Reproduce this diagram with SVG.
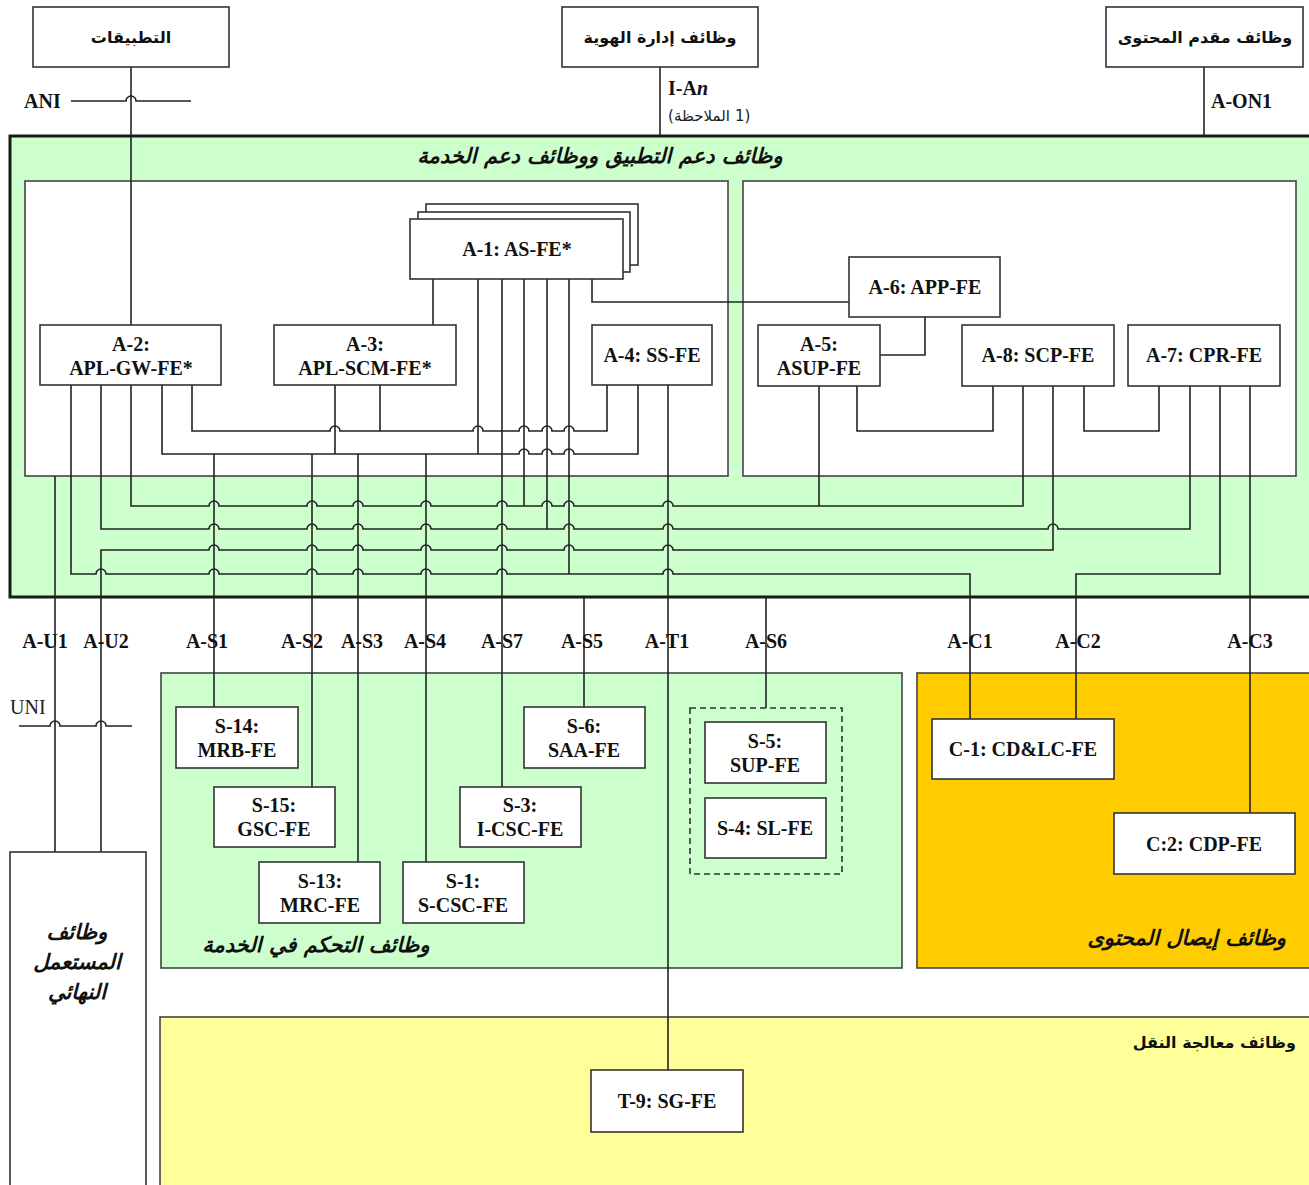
<svg xmlns="http://www.w3.org/2000/svg" width="1309" height="1185" viewBox="0 0 1309 1185">
  <style>
    .box { fill: #ffffff; stroke: #333333; stroke-width: 1.6; }
    .area { stroke: #444444; stroke-width: 1.6; }
    .wire { fill: none; stroke: #222222; stroke-width: 1.6; }
    .fe { font-family: "Liberation Serif", serif; font-weight: bold; font-size: 20px; fill: #111111; text-anchor: middle; }
    .ifl { font-family: "Liberation Serif", serif; font-weight: bold; font-size: 20px; fill: #111111; }
    .mid { text-anchor: middle; }
    .ar { font-family: "DejaVu Sans", sans-serif; font-weight: bold; font-size: 16px; fill: #111111; }
    .ari { font-family: "DejaVu Sans", sans-serif; font-weight: bold; font-style: italic; font-size: 21px; fill: #111111; }
    .note { font-family: "DejaVu Sans", sans-serif; font-size: 15px; fill: #222222; }
  </style>

  <!-- functional areas -->
  <g id="app-support-area">
    <rect x="10" y="136" width="1302" height="461" fill="#ccffcc" stroke="#1a1a1a" stroke-width="3"/>
    <rect x="25" y="181" width="703" height="295" fill="#ffffff" class="area"/>
    <rect x="743" y="181" width="553" height="295" fill="#ffffff" class="area"/>
    <text class="ari" x="600" y="163" text-anchor="middle" font-size="21.5">وظائف دعم التطبيق ووظائف دعم الخدمة</text>
  </g>
  <g id="service-control-area">
    <rect x="161" y="673" width="741" height="295" fill="#ccffcc" class="area"/>
    <text class="ari" x="316" y="952" text-anchor="middle">وظائف التحكم في الخدمة</text>
  </g>
  <g id="content-delivery-area">
    <rect x="917" y="673" width="400" height="295" fill="#ffcc00" class="area"/>
    <text class="ari" x="1286" y="945" text-anchor="end" font-size="22">وظائف إيصال المحتوى</text>
  </g>
  <g id="transport-area">
    <rect x="160" y="1017" width="1160" height="180" fill="#ffff99" class="area"/>
    <text class="ar" x="1296" y="1048" text-anchor="end">وظائف معالجة النقل</text>
  </g>

  <!-- connectors -->
  <g id="connectors" class="wire">
    <!-- external reference points -->
    <path d="M131 67 V325"/>
    <path d="M71 101 H126 a5 5 0 0 1 10 0 H191"/>
    <path d="M660 67 V136"/>
    <path d="M1204 67 V136"/>

    <!-- inside the application support box -->
    <path d="M433 279 V325"/>
    <path d="M592 279 V302 H849"/>
    <path d="M925 317 V355 H880"/>
    <path d="M857 386 V431 H993 V386"/>
    <path d="M1159 386 V431 H1084 V386"/>
    <path d="M192 385 V431 H330 a5 5 0 0 1 10 0 H473 a5 5 0 0 1 10 0 H519 a5 5 0 0 1 10 0 H542 a5 5 0 0 1 10 0 H564 a5 5 0 0 1 10 0 H607 V385"/>
    <path d="M380 385 V431"/>
    <path d="M162 385 V454 H519 a5 5 0 0 1 10 0 H542 a5 5 0 0 1 10 0 H564 a5 5 0 0 1 10 0 H638 V385"/>
    <path d="M335 385 V454"/>
    <path d="M478 279 V454"/>
    <path d="M502 279 V787"/>
    <path d="M524 279 V506"/>
    <path d="M547 279 V529"/>
    <path d="M569 279 V574"/>
    <path d="M214 454 V707"/>
    <path d="M312 454 V787"/>
    <path d="M358 454 V862"/>
    <path d="M426 454 V862"/>
    <path d="M668 385 V1070"/>
    <path d="M819 386 V506"/>

    <!-- shared buses -->
    <path d="M131 385 V506 H209 a5 5 0 0 1 10 0 H307 a5 5 0 0 1 10 0 H353 a5 5 0 0 1 10 0 H421 a5 5 0 0 1 10 0 H497 a5 5 0 0 1 10 0 H542 a5 5 0 0 1 10 0 H564 a5 5 0 0 1 10 0 H663 a5 5 0 0 1 10 0 H1023 V386"/>
    <path d="M101 385 V529 H209 a5 5 0 0 1 10 0 H307 a5 5 0 0 1 10 0 H353 a5 5 0 0 1 10 0 H421 a5 5 0 0 1 10 0 H497 a5 5 0 0 1 10 0 H564 a5 5 0 0 1 10 0 H663 a5 5 0 0 1 10 0 H1048 a5 5 0 0 1 10 0 H1190 V386"/>
    <path d="M101 852 V550 H209 a5 5 0 0 1 10 0 H307 a5 5 0 0 1 10 0 H353 a5 5 0 0 1 10 0 H421 a5 5 0 0 1 10 0 H497 a5 5 0 0 1 10 0 H564 a5 5 0 0 1 10 0 H663 a5 5 0 0 1 10 0 H1053 V386"/>
    <path d="M71 385 V574 H96 a5 5 0 0 1 10 0 H209 a5 5 0 0 1 10 0 H307 a5 5 0 0 1 10 0 H353 a5 5 0 0 1 10 0 H421 a5 5 0 0 1 10 0 H497 a5 5 0 0 1 10 0 H663 a5 5 0 0 1 10 0 H970 V719"/>
    <path d="M1220 386 V574 H1076 V719"/>
    <path d="M1250 386 V813"/>

    <!-- user side and service control side -->
    <path d="M55 476 V852"/>
    <path d="M19 726 H50 a5 5 0 0 1 10 0 H96 a5 5 0 0 1 10 0 H132"/>
    <path d="M584 598 V707"/>
    <path d="M766 598 V708"/>
  </g>

  <!-- top-level functions -->
  <g id="applications">
    <rect class="box" x="33" y="7" width="196" height="60"/>
    <text class="ar" x="131" y="43" text-anchor="middle">التطبيقات</text>
  </g>
  <g id="identity-management">
    <rect class="box" x="562" y="7" width="196" height="60"/>
    <text class="ar" x="660" y="43" text-anchor="middle">وظائف إدارة الهوية</text>
  </g>
  <g id="content-provider">
    <rect class="box" x="1106" y="7" width="197" height="60"/>
    <text class="ar" x="1205" y="43" text-anchor="middle">وظائف مقدم المحتوى</text>
  </g>

  <!-- application support FEs -->
  <g id="a1-as-fe">
    <rect class="box" x="426" y="204" width="212" height="61"/>
    <rect class="box" x="418" y="212" width="212" height="60"/>
    <rect class="box" x="410" y="219" width="213" height="60"/>
    <text class="fe" x="517" y="256">A-1: AS-FE*</text>
  </g>
  <g id="a2-apl-gw-fe">
    <rect class="box" x="40" y="325" width="181" height="60"/>
    <text class="fe" x="131" y="351">A-2:</text>
    <text class="fe" x="131" y="375">APL-GW-FE*</text>
  </g>
  <g id="a3-apl-scm-fe">
    <rect class="box" x="274" y="325" width="182" height="60"/>
    <text class="fe" x="365" y="351">A-3:</text>
    <text class="fe" x="365" y="375">APL-SCM-FE*</text>
  </g>
  <g id="a4-ss-fe">
    <rect class="box" x="592" y="325" width="120" height="60"/>
    <text class="fe" x="652" y="362">A-4: SS-FE</text>
  </g>
  <g id="a6-app-fe">
    <rect class="box" x="849" y="257" width="151" height="60"/>
    <text class="fe" x="925" y="294">A-6: APP-FE</text>
  </g>
  <g id="a5-asup-fe">
    <rect class="box" x="758" y="325" width="122" height="61"/>
    <text class="fe" x="819" y="351">A-5:</text>
    <text class="fe" x="819" y="375">ASUP-FE</text>
  </g>
  <g id="a8-scp-fe">
    <rect class="box" x="962" y="325" width="152" height="61"/>
    <text class="fe" x="1038" y="362">A-8: SCP-FE</text>
  </g>
  <g id="a7-cpr-fe">
    <rect class="box" x="1128" y="325" width="152" height="61"/>
    <text class="fe" x="1204" y="362">A-7: CPR-FE</text>
  </g>

  <!-- service control FEs -->
  <g id="s14-mrb-fe">
    <rect class="box" x="176" y="707" width="122" height="61"/>
    <text class="fe" x="237" y="733">S-14:</text>
    <text class="fe" x="237" y="757">MRB-FE</text>
  </g>
  <g id="s15-gsc-fe">
    <rect class="box" x="214" y="787" width="121" height="60"/>
    <text class="fe" x="274" y="812">S-15:</text>
    <text class="fe" x="274" y="836">GSC-FE</text>
  </g>
  <g id="s13-mrc-fe">
    <rect class="box" x="259" y="862" width="121" height="61"/>
    <text class="fe" x="320" y="888">S-13:</text>
    <text class="fe" x="320" y="912">MRC-FE</text>
  </g>
  <g id="s1-s-csc-fe">
    <rect class="box" x="403" y="862" width="121" height="61"/>
    <text class="fe" x="463" y="888">S-1:</text>
    <text class="fe" x="463" y="912">S-CSC-FE</text>
  </g>
  <g id="s3-i-csc-fe">
    <rect class="box" x="460" y="787" width="121" height="60"/>
    <text class="fe" x="520" y="812">S-3:</text>
    <text class="fe" x="520" y="836">I-CSC-FE</text>
  </g>
  <g id="s6-saa-fe">
    <rect class="box" x="524" y="707" width="121" height="61"/>
    <text class="fe" x="584" y="733">S-6:</text>
    <text class="fe" x="584" y="757">SAA-FE</text>
  </g>
  <g id="s5-s4-group">
    <rect x="690" y="708" width="152" height="166" fill="none" stroke="#333333" stroke-width="1.6" stroke-dasharray="6 4"/>
  </g>
  <g id="s5-sup-fe">
    <rect class="box" x="705" y="722" width="121" height="61"/>
    <text class="fe" x="765" y="748">S-5:</text>
    <text class="fe" x="765" y="772">SUP-FE</text>
  </g>
  <g id="s4-sl-fe">
    <rect class="box" x="705" y="798" width="121" height="60"/>
    <text class="fe" x="765" y="835">S-4: SL-FE</text>
  </g>

  <!-- content delivery FEs -->
  <g id="c1-cdlc-fe">
    <rect class="box" x="932" y="719" width="182" height="60"/>
    <text class="fe" x="1023" y="756">C-1: CD&amp;LC-FE</text>
  </g>
  <g id="c2-cdp-fe">
    <rect class="box" x="1114" y="813" width="181" height="61"/>
    <text class="fe" x="1204" y="851">C:2: CDP-FE</text>
  </g>

  <!-- transport FE -->
  <g id="t9-sg-fe">
    <rect class="box" x="591" y="1070" width="152" height="62"/>
    <text class="fe" x="667" y="1108">T-9: SG-FE</text>
  </g>

  <!-- end-user functions -->
  <g id="end-user">
    <rect class="box" x="10" y="852" width="136" height="345"/>
    <text class="ari" x="77" y="939" text-anchor="middle" font-size="23">وظائف</text>
    <text class="ari" x="77" y="969" text-anchor="middle" font-size="23">المستعمل</text>
    <text class="ari" x="77" y="999" text-anchor="middle" font-size="23">النهائي</text>
  </g>

  <!-- reference point labels -->
  <g id="reference-points">
    <text class="ifl" x="24" y="108">ANI</text>
    <text class="ifl" x="668" y="95">I-A<tspan font-style="italic">n</tspan></text>
    <text class="note" x="668" y="121">(</text>
    <text class="note" x="674" y="121">الملاحظة</text>
    <text class="note" x="735" y="121">1)</text>
    <text class="ifl" x="1211" y="108">A-ON1</text>
    <text x="10" y="714" font-family="Liberation Serif, serif" font-size="20" fill="#222222">UNI</text>
    <text class="ifl mid" x="45" y="648">A-U1</text>
    <text class="ifl mid" x="106" y="648">A-U2</text>
    <text class="ifl mid" x="207" y="648">A-S1</text>
    <text class="ifl mid" x="302" y="648">A-S2</text>
    <text class="ifl mid" x="362" y="648">A-S3</text>
    <text class="ifl mid" x="425" y="648">A-S4</text>
    <text class="ifl mid" x="502" y="648">A-S7</text>
    <text class="ifl mid" x="582" y="648">A-S5</text>
    <text class="ifl mid" x="667" y="648">A-T1</text>
    <text class="ifl mid" x="766" y="648">A-S6</text>
    <text class="ifl mid" x="970" y="648">A-C1</text>
    <text class="ifl mid" x="1078" y="648">A-C2</text>
    <text class="ifl mid" x="1250" y="648">A-C3</text>
  </g>
</svg>
